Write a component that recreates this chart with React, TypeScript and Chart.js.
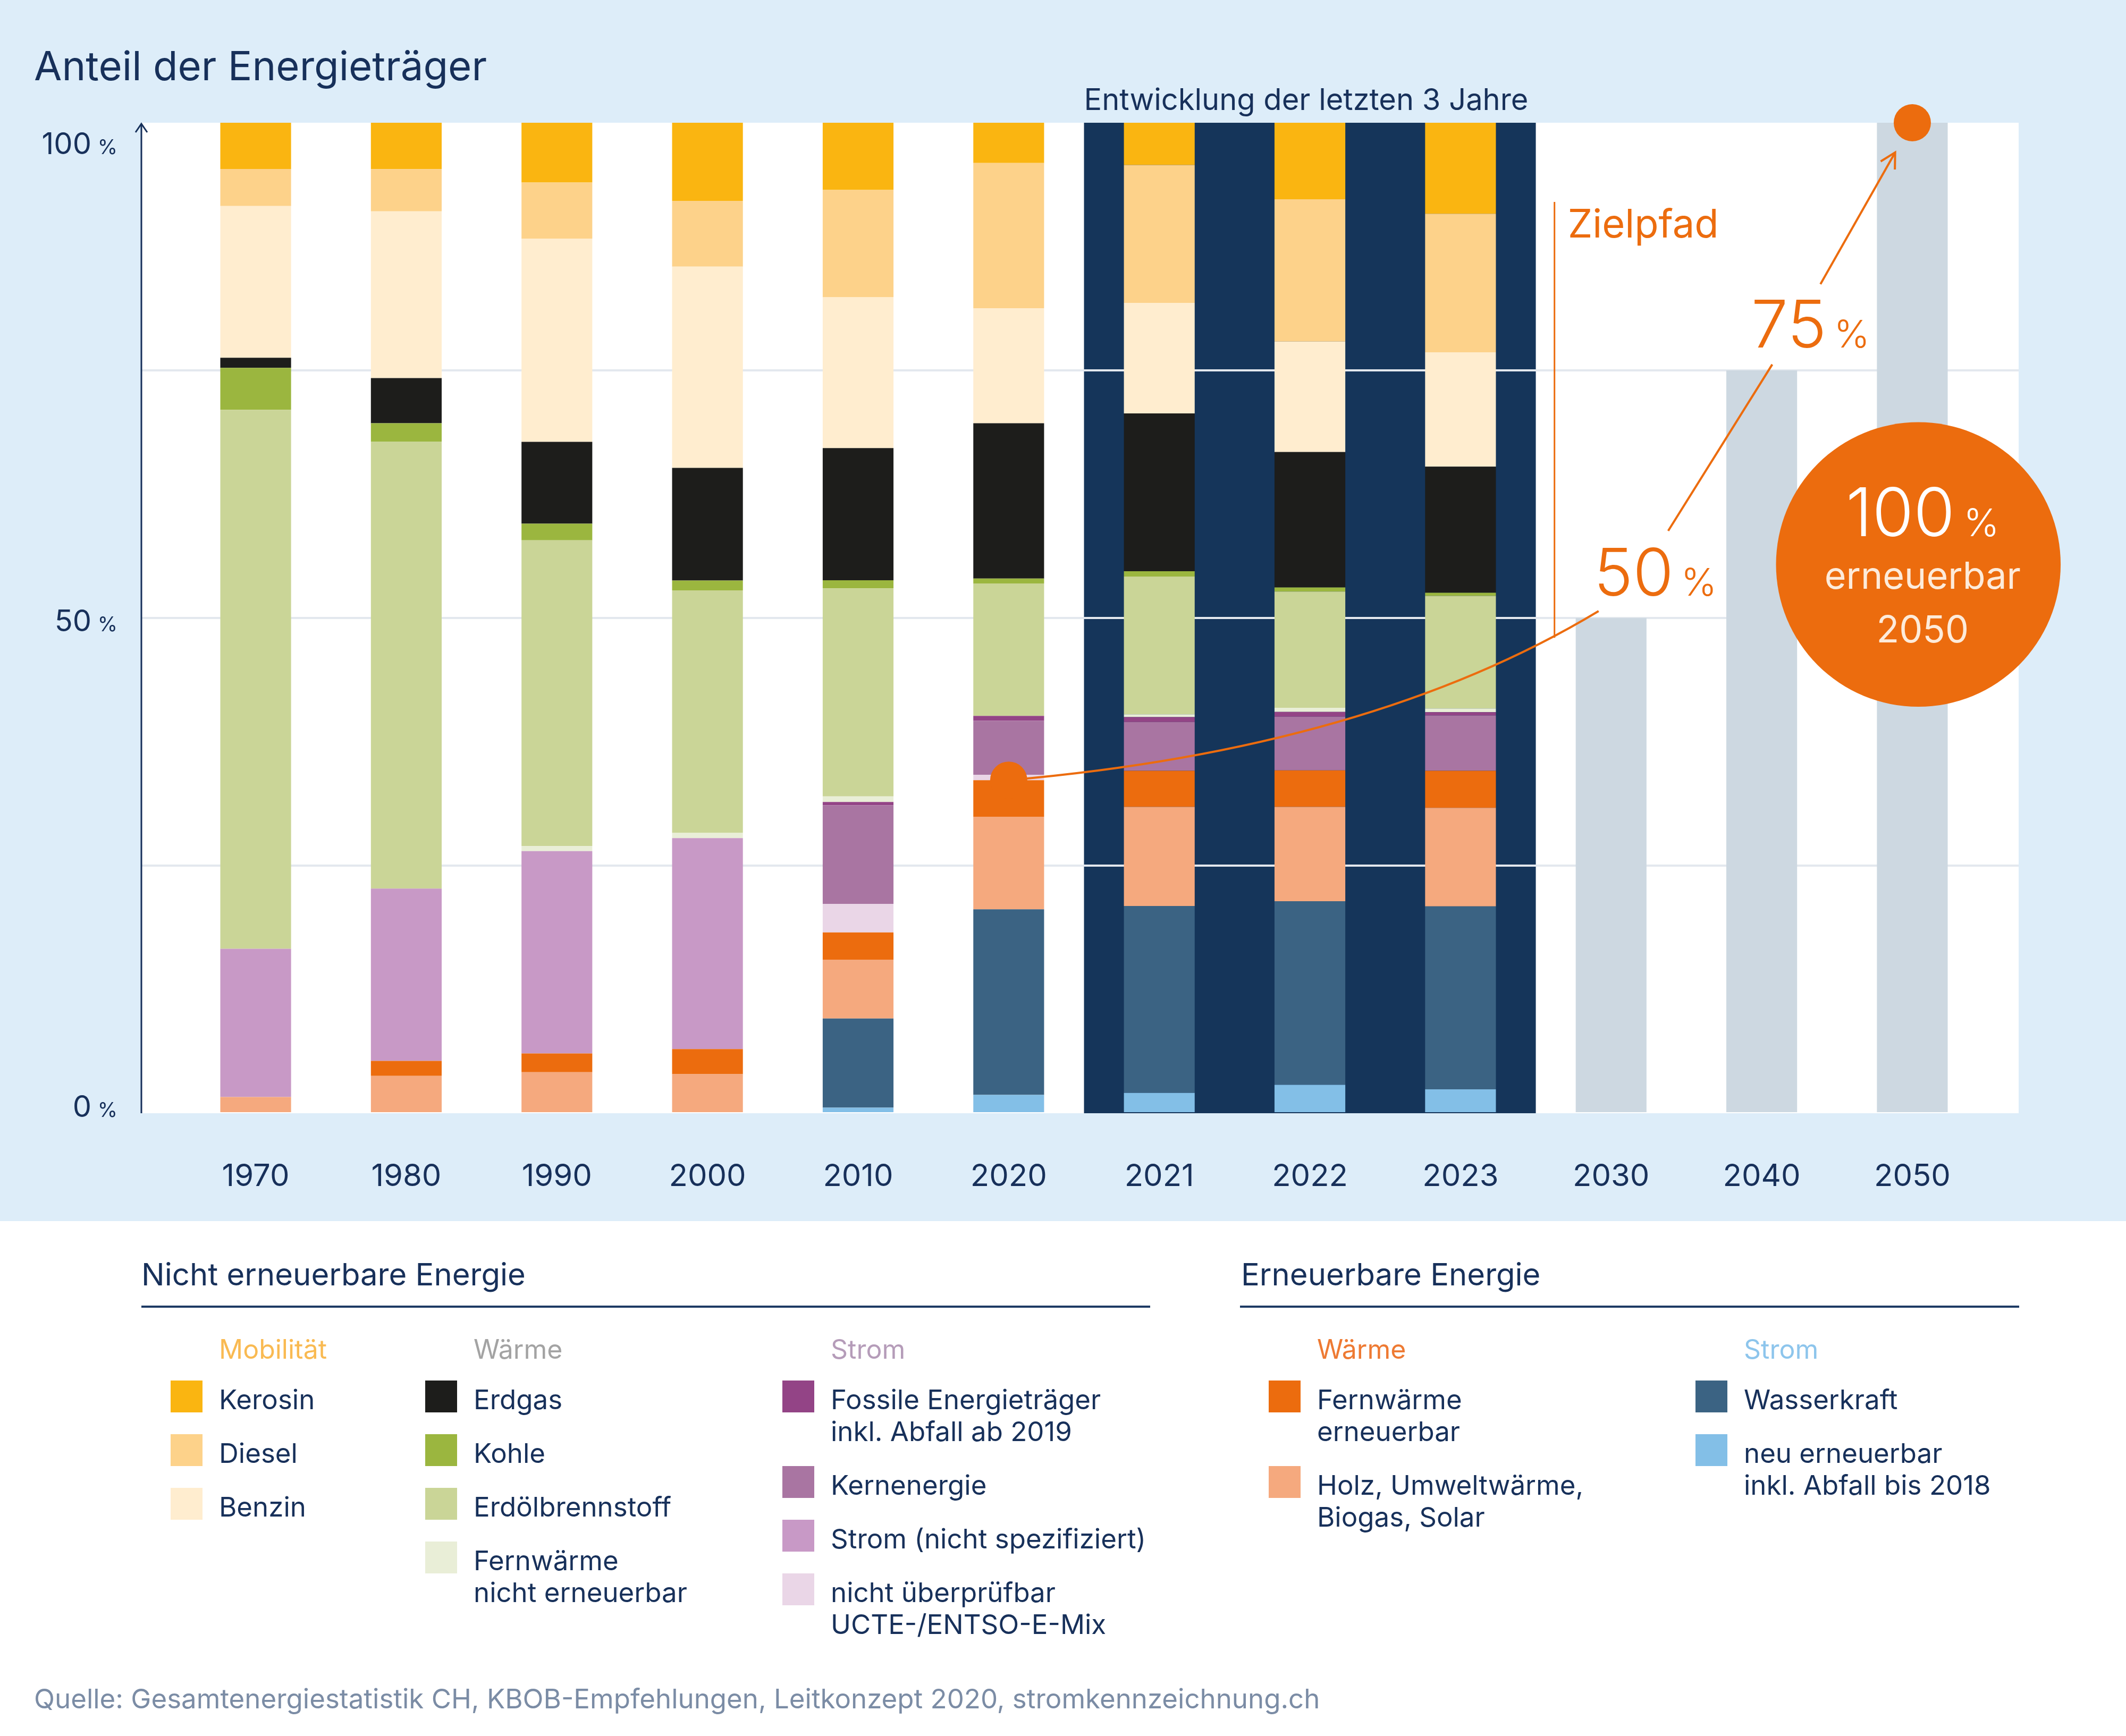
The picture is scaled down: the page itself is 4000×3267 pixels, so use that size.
import React, { useEffect, useRef } from "react";
import { Chart, registerables } from "chart.js";

Chart.register(...registerables);

const FONT = "Inter, 'Noto Sans', sans-serif";
const NAVY = "#17305A";
const ORANGE = "#EC6C0E";
const BAND = "#15355A";

// ---------- data ----------
const yearLabels = ["1970", "1980", "1990", "2000", "2010", "2020", "2021", "2022", "2023", "2030", "2040", "2050"];
const histCount = 9; // 1970 ... 2023

// stacked from bottom to top, shares in % (1970,1980,1990,2000,2010,2020,2021,2022,2023)
const neuErneuerbar = [0, 0, 0, 0, 0.57, 1.85, 2.05, 2.87, 2.42];
const wasserkraft = [0, 0, 0, 0, 8.99, 18.74, 18.87, 18.54, 18.46];
const holzUmweltBiogasSolar = [1.64, 3.77, 4.14, 3.94, 5.94, 9.35, 10.01, 9.52, 9.96];
const fernwaermeErneuerbar = [0, 1.52, 1.89, 2.54, 2.75, 3.69, 3.65, 3.69, 3.74];
const nichtUeberpruefbar = [0, 0, 0, 0, 2.87, 0.54, 0, 0, 0];
const stromNichtSpezifiziert = [14.97, 17.39, 20.43, 21.29, 0, 0, 0, 0, 0];
const kernenergie = [0, 0, 0, 0, 9.97, 5.45, 4.92, 5.41, 5.58];
const fossileStrom = [0, 0, 0, 0, 0.33, 0.49, 0.49, 0.49, 0.33];
const fernwaermeNichtErneuerbar = [0, 0, 0.53, 0.53, 0.57, 0, 0.29, 0.41, 0.37];
const erdoelbrennstoff = [54.41, 45.1, 30.85, 24.49, 21.0, 13.38, 13.91, 11.74, 11.36];
const kohle = [4.23, 1.88, 1.68, 0.99, 0.82, 0.49, 0.53, 0.41, 0.33];
const erdgas = [1.03, 4.56, 8.26, 11.37, 13.34, 15.68, 15.93, 13.67, 12.73];
const benzin = [15.31, 16.83, 20.52, 20.32, 15.23, 11.62, 11.16, 11.16, 11.54];
const diesel = [3.74, 4.27, 5.67, 6.65, 10.84, 14.66, 13.92, 14.37, 13.99];
const kerosin = [4.68, 4.68, 6.03, 7.88, 6.81, 4.06, 4.27, 7.72, 9.2];

// target path 2030, 2040, 2050
const zielpfad = [50, 75, 100];
const yTickValues = [0, 50, 100];

const COLORS = {
  neu: "#83BFE7",
  wasser: "#3B6383",
  holz: "#F5A97E",
  fwErn: "#EC6C0E",
  nichtUeb: "#EAD6E7",
  stromNS: "#C899C6",
  kern: "#A975A2",
  fossil: "#934486",
  fwNE: "#E9EED7",
  erdoel: "#CAD597",
  kohle: "#9BB63F",
  erdgas: "#1D1D1B",
  benzin: "#FFEDCF",
  diesel: "#FDD28A",
  kerosin: "#FAB511",
  ziel: "#CDD8E1",
};

const series = [
  { label: "neu erneuerbar inkl. Abfall bis 2018", color: COLORS.neu, values: neuErneuerbar },
  { label: "Wasserkraft", color: COLORS.wasser, values: wasserkraft },
  { label: "Holz, Umweltwärme, Biogas, Solar", color: COLORS.holz, values: holzUmweltBiogasSolar },
  { label: "Fernwärme erneuerbar", color: COLORS.fwErn, values: fernwaermeErneuerbar },
  { label: "nicht überprüfbar UCTE-/ENTSO-E-Mix", color: COLORS.nichtUeb, values: nichtUeberpruefbar },
  { label: "Strom (nicht spezifiziert)", color: COLORS.stromNS, values: stromNichtSpezifiziert },
  { label: "Kernenergie", color: COLORS.kern, values: kernenergie },
  { label: "Fossile Energieträger inkl. Abfall ab 2019", color: COLORS.fossil, values: fossileStrom },
  { label: "Fernwärme nicht erneuerbar", color: COLORS.fwNE, values: fernwaermeNichtErneuerbar },
  { label: "Erdölbrennstoff", color: COLORS.erdoel, values: erdoelbrennstoff },
  { label: "Kohle", color: COLORS.kohle, values: kohle },
  { label: "Erdgas", color: COLORS.erdgas, values: erdgas },
  { label: "Benzin", color: COLORS.benzin, values: benzin },
  { label: "Diesel", color: COLORS.diesel, values: diesel },
  { label: "Kerosin", color: COLORS.kerosin, values: kerosin },
];

const renewableSeries = [neuErneuerbar, wasserkraft, holzUmweltBiogasSolar, fernwaermeErneuerbar];
const idx2020 = yearLabels.indexOf("2020");
const renewable2020 = renewableSeries.reduce((s, arr) => s + arr[idx2020], 0);

// ---------- canvas overlay ----------
const overlay = {
  id: "overlay",
  beforeDraw(chart: any) {
    const { ctx, chartArea: a, scales } = chart;
    const x = scales.x;
    ctx.save();
    ctx.fillStyle = "#FFFFFF";
    ctx.fillRect(a.left, a.top, a.right - a.left, a.bottom - a.top);
    const x0 = x.getPixelForValue(5.5);
    const x1 = x.getPixelForValue(8.5);
    ctx.fillStyle = BAND;
    ctx.fillRect(x0, a.top, x1 - x0, a.bottom - a.top);
    ctx.restore();
  },
  afterDraw(chart: any) {
    const { ctx, chartArea: a, scales } = chart;
    const X = (v: number) => scales.x.getPixelForValue(v);
    const Y = (v: number) => scales.y.getPixelForValue(v);
    const step = X(1) - X(0);
    ctx.save();
    ctx.textBaseline = "alphabetic";

    // y axis with arrow
    ctx.strokeStyle = NAVY;
    ctx.lineWidth = 3;
    ctx.beginPath();
    ctx.moveTo(a.left, a.bottom);
    ctx.lineTo(a.left, a.top + 2);
    ctx.stroke();
    ctx.beginPath();
    ctx.moveTo(a.left - 11, a.top + 18);
    ctx.lineTo(a.left, a.top + 2);
    ctx.lineTo(a.left + 11, a.top + 18);
    ctx.stroke();

    // y labels
    ctx.fillStyle = NAVY;
    ctx.textAlign = "right";
    yTickValues.forEach((v) => {
      const shift = v === 100 ? 38 : v === 0 ? -14 : 4;
      const base = Y(v) + 21 + shift;
      ctx.font = `56px ${FONT}`;
      ctx.fillText(String(v), a.left - 94, base);
      ctx.font = `38px ${FONT}`;
      ctx.fillText("%", a.left - 45, base);
    });

    // band caption
    ctx.textAlign = "left";
    ctx.font = `56px ${FONT}`;
    ctx.fillText("Entwicklung der letzten 3 Jahre", X(5.5), a.top - 24);

    // Zielpfad
    ctx.strokeStyle = ORANGE;
    ctx.fillStyle = ORANGE;
    ctx.lineWidth = 4;
    ctx.beginPath();
    ctx.moveTo(X(5), Y(renewable2020));
    ctx.quadraticCurveTo(X(7.4), Y(36.8), X(8.917), Y(50.7));
    ctx.stroke();

    ctx.lineWidth = 3;
    ctx.beginPath();
    ctx.moveTo(X(8.624), Y(92));
    ctx.lineTo(X(8.624), Y(48));
    ctx.stroke();

    ctx.lineWidth = 4;
    ctx.beginPath();
    ctx.moveTo(X(9.379), Y(58.8));
    ctx.lineTo(X(10.07), Y(75.6));
    ctx.stroke();

    const ax0 = X(10.39), ay0 = Y(83.7), ax1 = X(10.886), ay1 = Y(97.0);
    ctx.beginPath();
    ctx.moveTo(ax0, ay0);
    ctx.lineTo(ax1, ay1);
    ctx.stroke();
    const th = Math.atan2(ay1 - ay0, ax1 - ax0);
    const al = 32, aa = 0.5;
    ctx.beginPath();
    ctx.moveTo(ax1 - al * Math.cos(th - aa), ay1 - al * Math.sin(th - aa));
    ctx.lineTo(ax1, ay1);
    ctx.lineTo(ax1 - al * Math.cos(th + aa), ay1 - al * Math.sin(th + aa));
    ctx.stroke();

    // dots
    [[5, renewable2020], [histCount + zielpfad.length - 1, zielpfad[zielpfad.length - 1]]].forEach(([i, v]) => {
      ctx.beginPath();
      ctx.arc(X(i), Y(v), 35, 0, Math.PI * 2);
      ctx.fill();
    });

    // labels
    ctx.textAlign = "left";
    ctx.font = `74px ${FONT}`;
    ctx.fillText("Zielpfad", X(8.624) + 25, Y(88.4));

    const pct = (num: string, left: number, base: number, big: number, small: number, gap: number) => {
      ctx.textAlign = "left";
      ctx.font = `300 ${big}px ${FONT}`;
      ctx.fillText(num, left, base);
      const w = ctx.measureText(num).width;
      ctx.font = `300 ${small}px ${FONT}`;
      ctx.fillText("%", left + w + gap, base);
    };
    pct("50", X(8.885), Y(52.25), 124, 72, 14);
    pct("75", X(9.93), Y(77.3), 124, 72, 14);

    // big circle
    const cx = X(11.04), cy = Y(55.4), r = 0.945 * step;
    ctx.beginPath();
    ctx.arc(cx, cy, r, 0, Math.PI * 2);
    ctx.fill();
    ctx.fillStyle = "#FFFFFF";
    ctx.font = `300 126px ${FONT}`;
    const w100 = ctx.measureText("100").width;
    ctx.font = `300 72px ${FONT}`;
    const wp = ctx.measureText("%").width;
    const gap = 16;
    const start = cx + 8 - (w100 + gap + wp) / 2;
    pct("100", start, cy - 53, 126, 72, gap);
    ctx.fillStyle = "#FDEBDA";
    ctx.textAlign = "center";
    ctx.font = `70px ${FONT}`;
    ctx.fillText("erneuerbar", cx + 8, cy + 46);
    ctx.fillText("2050", cx + 8, cy + 147);

    ctx.restore();
  },
};

// ---------- legend ----------
type Item = { label: string; color: string };
const legendNonRenewable: { title: string; color: string; left: number; items: Item[] }[] = [
  {
    title: "Mobilität",
    color: "#F9BA52",
    left: 321,
    items: [
      { label: "Kerosin", color: COLORS.kerosin },
      { label: "Diesel", color: COLORS.diesel },
      { label: "Benzin", color: COLORS.benzin },
    ],
  },
  {
    title: "Wärme",
    color: "#A3A3A3",
    left: 800,
    items: [
      { label: "Erdgas", color: COLORS.erdgas },
      { label: "Kohle", color: COLORS.kohle },
      { label: "Erdölbrennstoff", color: COLORS.erdoel },
      { label: "Fernwärme\nnicht erneuerbar", color: COLORS.fwNE },
    ],
  },
  {
    title: "Strom",
    color: "#B59CB9",
    left: 1472,
    items: [
      { label: "Fossile Energieträger\ninkl. Abfall ab 2019", color: COLORS.fossil },
      { label: "Kernenergie", color: COLORS.kern },
      { label: "Strom (nicht spezifiziert)", color: COLORS.stromNS },
      { label: "nicht überprüfbar\nUCTE-/ENTSO-E-Mix", color: COLORS.nichtUeb },
    ],
  },
];
const legendRenewable = [
  {
    title: "Wärme",
    color: "#EE7A33",
    left: 2387,
    items: [
      { label: "Fernwärme\nerneuerbar", color: COLORS.fwErn },
      { label: "Holz, Umweltwärme,\nBiogas, Solar", color: COLORS.holz },
    ],
  },
  {
    title: "Strom",
    color: "#8DC5EC",
    left: 3190,
    items: [
      { label: "Wasserkraft", color: COLORS.wasser },
      { label: "neu erneuerbar\ninkl. Abfall bis 2018", color: COLORS.neu },
    ],
  },
];

function LegendColumn({ col }: { col: { title: string; color: string; left: number; items: Item[] } }) {
  return (
    <div style={{ position: "absolute", left: col.left, top: 2509 }}>
      <div style={{ marginLeft: 91, fontSize: 50, lineHeight: "60px", color: col.color, height: 60 }}>{col.title}</div>
      <div style={{ marginTop: 29, display: "flex", flexDirection: "column", gap: 40 }}>
        {col.items.map((it) => (
          <div key={it.label} style={{ display: "flex", alignItems: "flex-start" }}>
            <div style={{ width: 60, height: 60, background: it.color, flex: "0 0 60px" }} />
            <div
              style={{
                marginLeft: 31,
                marginTop: 6,
                marginBottom: -5,
                fontSize: 51,
                lineHeight: "60px",
                color: NAVY,
                whiteSpace: "pre-line",
              }}
            >
              {it.label}
            </div>
          </div>
        ))}
      </div>
    </div>
  );
}

export default function App() {
  const ref = useRef<HTMLCanvasElement>(null);

  useEffect(() => {
    document.body.style.margin = "0";
    const canvas = ref.current!;
    const common = { borderWidth: 0, stack: "s", categoryPercentage: 1, barPercentage: 0.47 };
    const datasets: any[] = [
      ...series.map((s) => ({
        label: s.label,
        data: s.values.map((v, i) => ({ x: i, y: v })),
        backgroundColor: s.color,
        ...common,
      })),
      {
        label: "Zielpfad",
        data: zielpfad.map((v, i) => ({ x: histCount + i, y: v })),
        backgroundColor: COLORS.ziel,
        ...common,
      },
    ];
    const chart = new Chart(canvas, {
      type: "bar",
      data: { datasets },
      options: {
        responsive: false,
        animation: false,
        devicePixelRatio: 1,
        layout: { padding: { top: 231, right: 202, left: 0, bottom: 0 } },
        plugins: { legend: { display: false }, tooltip: { enabled: false } },
        scales: {
          x: {
            type: "linear",
            min: -0.759,
            max: 11.706,
            offset: false,
            stacked: true,
            grid: { display: false, offset: false },
            border: { display: false },
            afterFit: (s: any) => {
              s.height = 203;
            },
            ticks: {
              stepSize: 1,
              includeBounds: false,
              autoSkip: false,
              maxRotation: 0,
              padding: 77,
              color: NAVY,
              font: { family: FONT, size: 58 },
              callback: (v: any) => (Number.isInteger(v) && yearLabels[v] ? yearLabels[v] : ""),
            },
          },
          y: {
            min: 0,
            max: 100,
            stacked: true,
            border: { display: false },
            afterFit: (s: any) => {
              s.width = 266;
            },
            ticks: { display: false, stepSize: 25 },
            grid: {
              drawTicks: false,
              lineWidth: 4,
              color: (c: any) => (c.tick && (c.tick.value === 0 || c.tick.value === 100) ? "rgba(0,0,0,0)" : "#E3E8EE"),
            },
          },
        },
      },
      plugins: [overlay],
    } as any);
    return () => chart.destroy();
  }, []);

  return (
    <div
      style={{
        position: "absolute",
        left: 0,
        top: 0,
        width: 4000,
        height: 3267,
        background: "#FFFFFF",
        overflow: "hidden",
        fontFamily: FONT,
        color: NAVY,
      }}
    >
      <div style={{ position: "absolute", left: 0, top: 0, width: 4000, height: 2298, background: "#DDEDF9" }}>
        <canvas ref={ref} width={4000} height={2298} style={{ width: 4000, height: 2298, display: "block" }} />
      </div>
      <div style={{ position: "absolute", left: 64, top: 78, fontSize: 76, lineHeight: "90px", whiteSpace: "nowrap" }}>
        Anteil der Energieträger
      </div>

      <div style={{ position: "absolute", left: 266, top: 2363, fontSize: 58, lineHeight: "70px", whiteSpace: "nowrap" }}>
        Nicht erneuerbare Energie
      </div>
      <div style={{ position: "absolute", left: 266, top: 2457, width: 1898, height: 4, background: "#1E3A64" }} />
      <div style={{ position: "absolute", left: 2335, top: 2363, fontSize: 58, lineHeight: "70px", whiteSpace: "nowrap" }}>
        Erneuerbare Energie
      </div>
      <div style={{ position: "absolute", left: 2333, top: 2457, width: 1466, height: 4, background: "#1E3A64" }} />

      {legendNonRenewable.map((c) => (
        <LegendColumn key={c.title + c.left} col={c} />
      ))}
      {legendRenewable.map((c) => (
        <LegendColumn key={c.title + c.left} col={c} />
      ))}

      <div
        style={{
          position: "absolute",
          left: 64,
          top: 3167,
          fontSize: 51,
          lineHeight: "60px",
          color: "#7B8CA5",
          whiteSpace: "nowrap",
        }}
      >
        Quelle: Gesamtenergiestatistik CH, KBOB-Empfehlungen, Leitkonzept 2020, stromkennzeichnung.ch
      </div>
    </div>
  );
}
